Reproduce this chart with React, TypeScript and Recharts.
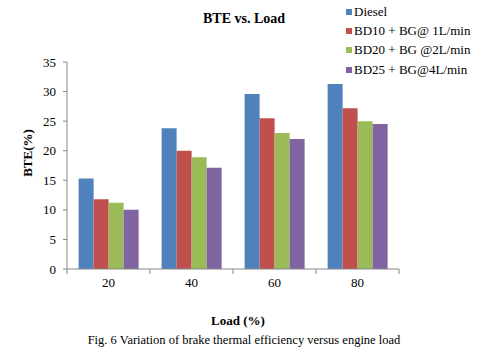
import { BarChart, Bar, XAxis, YAxis } from 'recharts';

const loads = ['20', '40', '60', '80'];
const diesel = [15.3, 23.8, 29.6, 31.3];
const bd10 = [11.8, 20.0, 25.5, 27.2];
const bd20 = [11.2, 18.9, 23.0, 25.0];
const bd25 = [10.0, 17.1, 22.0, 24.5];
const yTicks = [0, 5, 10, 15, 20, 25, 30, 35];

const SERIES = [
  { key: 'diesel', name: 'Diesel', color: '#4F81BD' },
  { key: 'bd10', name: 'BD10 + BG@ 1L/min', color: '#C0504D' },
  { key: 'bd20', name: 'BD20 + BG @2L/min', color: '#9BBB59' },
  { key: 'bd25', name: 'BD25 + BG@4L/min', color: '#8064A2' },
];

const data = loads.map((load, i) => ({
  load,
  diesel: diesel[i],
  bd10: bd10[i],
  bd20: bd20[i],
  bd25: bd25[i],
}));

const FONT = '"Times New Roman", "Liberation Serif", serif';
const AXIS = '#868686';
const W = 498;
const H = 357;
const Y_W = 30;
const X_H = 30;
const MARGIN = { top: 62, right: 99, bottom: 58, left: 37 };
const BAND = (W - MARGIN.left - Y_W - MARGIN.right) / loads.length;

// category label plus tick marks at the band edges, like Excel
function LoadTick(props: any) {
  const { x, y, payload, index } = props;
  const half = BAND / 2;
  return (
    <g>
      {index === 0 && <line x1={x - half} y1={y - 8} x2={x - half} y2={y - 3} stroke={AXIS} />}
      <line x1={x + half} y1={y - 8} x2={x + half} y2={y - 3} stroke={AXIS} />
      <text x={x} y={y + 10} textAnchor="middle" fontSize={13} fill="#000" fontFamily={FONT}>
        {payload.value}
      </text>
    </g>
  );
}

export default function App() {
  return (
    <div style={{ position: 'absolute', left: 0, top: 0, width: W, height: H, background: '#fff', fontFamily: FONT, color: '#000' }}>
      <div
        style={{
          position: 'absolute',
          left: 0,
          width: 488,
          top: 11,
          textAlign: 'center',
          fontWeight: 700,
          fontSize: 14,
        }}
      >
        BTE vs. Load
      </div>
      <div style={{ position: 'absolute', left: 346, top: 2, fontSize: 13 }}>
        {SERIES.map((s) => (
          <div key={s.key} style={{ display: 'flex', alignItems: 'center', height: 19.3 }}>
            <span style={{ width: 6, height: 6, background: s.color, display: 'inline-block', marginRight: 2 }} />
            <span>{s.name}</span>
          </div>
        ))}
      </div>
      <div
        style={{
          position: 'absolute',
          left: 28,
          top: 153,
          transform: 'translate(-50%, -50%) rotate(-90deg)',
          fontWeight: 700,
          fontSize: 13,
          whiteSpace: 'nowrap',
        }}
      >
        BTE(%)
      </div>
      <BarChart width={W} height={H} data={data} margin={MARGIN} barGap={0} barCategoryGap="14%">
        <XAxis dataKey="load" height={X_H} stroke={AXIS} tickLine={false} tick={<LoadTick />} />
        <YAxis
          width={Y_W}
          domain={[0, 35]}
          ticks={yTicks}
          stroke={AXIS}
          tickSize={4}
          tickMargin={7}
          tick={{ fill: '#000', fontSize: 13, fontFamily: FONT }}
        />
        {SERIES.map((s) => (
          <Bar key={s.key} dataKey={s.key} name={s.name} fill={s.color} isAnimationActive={false} />
        ))}
      </BarChart>
      <div
        style={{
          position: 'absolute',
          left: 188,
          width: 100,
          top: 313,
          textAlign: 'center',
          fontWeight: 700,
          fontSize: 13,
        }}
      >
        Load (%)
      </div>
      <div
        style={{
          position: 'absolute',
          left: 0,
          width: 488,
          top: 333,
          textAlign: 'center',
          fontSize: 12.5,
        }}
      >
        Fig. 6 Variation of brake thermal efficiency versus engine load
      </div>
    </div>
  );
}
